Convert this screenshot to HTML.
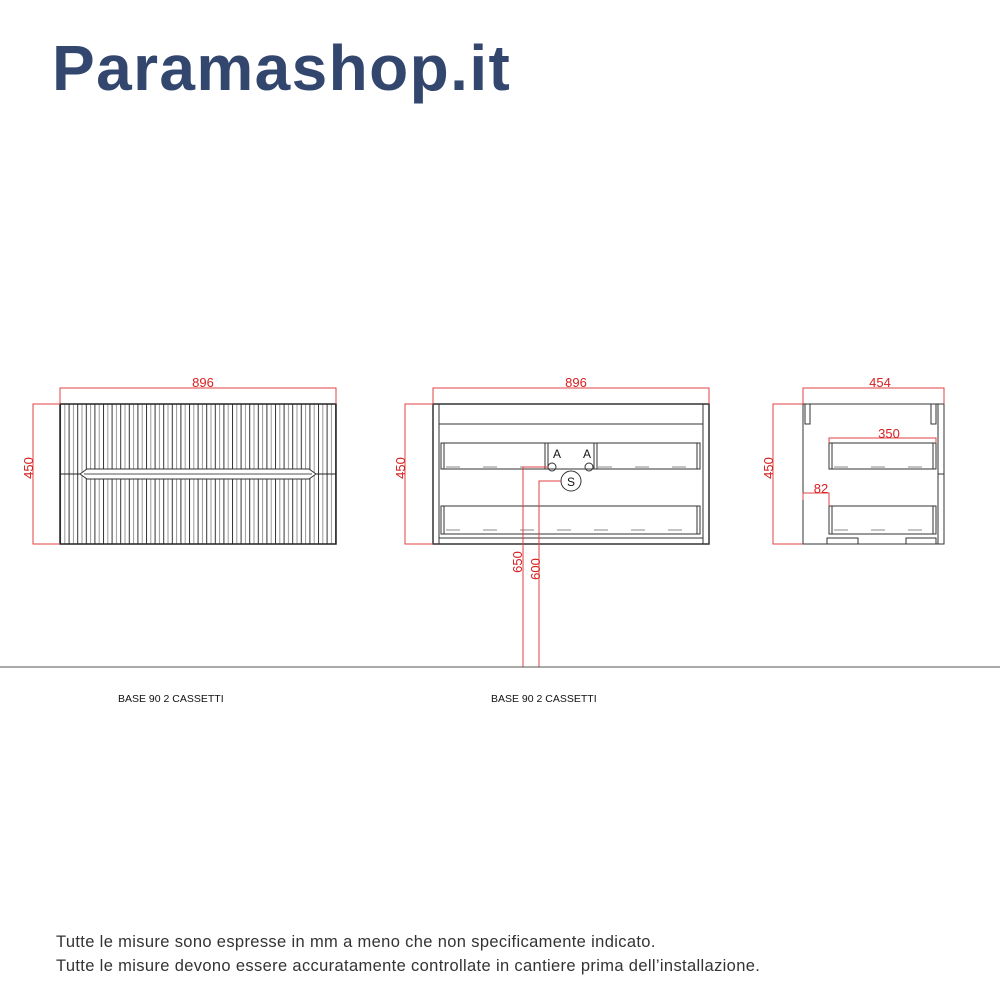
<!DOCTYPE html>
<html><head><meta charset="utf-8"><style>
body{margin:0;background:#fff;width:1000px;height:1000px;overflow:hidden;position:relative;font-family:"Liberation Sans",sans-serif}
.logo{position:absolute;left:52px;top:31px;font-size:64px;font-weight:bold;color:#33476e;letter-spacing:1.4px}
.note{position:absolute;left:56px;font-size:16.5px;color:#333;letter-spacing:0.35px}
</style></head><body>
<div class="logo">Paramashop.it</div>
<svg width="1000" height="1000" style="position:absolute;left:0;top:0" font-family="Liberation Sans, sans-serif">
<defs>
<pattern id="fl" x="60" y="0" width="8.6" height="10" patternUnits="userSpaceOnUse">
<line x1="0.5" y1="0" x2="0.5" y2="10" stroke="#333" stroke-width="1"/>
<line x1="4.8" y1="0" x2="4.8" y2="10" stroke="#999" stroke-width="1"/>
</pattern>
</defs>
<rect x="60" y="404" width="276" height="140" fill="url(#fl)"/>
<rect x="60" y="404" width="276" height="140" fill="none" stroke="#222" stroke-width="1.5"/>
<line x1="60" y1="474" x2="336" y2="474" stroke="#222"/>
<polygon points="80,474 87,469 309,469 316,474 309,479 87,479" fill="#fff" stroke="#333"/>
<line x1="84" y1="474" x2="312" y2="474" stroke="#555"/>
<g stroke="#e04040" fill="none" stroke-width="1">
<polyline points="60,404 60,388 336,388 336,404"/>
<polyline points="60,404 33,404 33,544 60,544"/>
</g>
<text x="203" y="387" fill="#d82020" font-size="13" text-anchor="middle">896</text>
<text x="0" y="0" fill="#d82020" font-size="13" text-anchor="middle" transform="translate(33,468) rotate(-90)">450</text>
<g stroke="#333" fill="none" stroke-width="1">
<rect x="433" y="404" width="276" height="140" stroke-width="1.5"/>
<line x1="439" y1="404" x2="439" y2="544"/><line x1="703" y1="404" x2="703" y2="544"/>
<line x1="439" y1="424" x2="703" y2="424"/>
<rect x="441" y="443" width="259" height="26"/>
<line x1="444" y1="443" x2="444" y2="469"/><line x1="697" y1="443" x2="697" y2="469"/>
<line x1="545" y1="443" x2="545" y2="469"/><line x1="548" y1="443" x2="548" y2="469"/>
<line x1="594" y1="443" x2="594" y2="469"/><line x1="597" y1="443" x2="597" y2="469"/>
<rect x="441" y="506" width="259" height="28"/>
<line x1="444" y1="506" x2="444" y2="534"/><line x1="697" y1="506" x2="697" y2="534"/>
<line x1="439" y1="538" x2="703" y2="538"/>
<circle cx="552" cy="467" r="4"/><circle cx="589" cy="467" r="4"/>
<circle cx="571" cy="481" r="10"/>
</g>
<g stroke="#888" stroke-dasharray="14,23"><line x1="446" y1="467" x2="545" y2="467"/><line x1="598" y1="467" x2="697" y2="467"/><line x1="446" y1="530" x2="697" y2="530"/></g>
<text x="557" y="458" font-size="12" text-anchor="middle" fill="#111">A</text>
<text x="587" y="458" font-size="12" text-anchor="middle" fill="#111">A</text>
<text x="571" y="486" font-size="12" text-anchor="middle" fill="#111">S</text>
<g stroke="#e04040" fill="none">
<polyline points="433,404 433,388 709,388 709,404"/>
<polyline points="433,404 405,404 405,544 433,544"/>
<polyline points="548,467 523,467 523,667"/>
<polyline points="561,481 539,481 539,667"/>
</g>
<text x="576" y="387" fill="#d82020" font-size="13" text-anchor="middle">896</text>
<text fill="#d82020" font-size="13" text-anchor="middle" transform="translate(405,468) rotate(-90)">450</text>
<text fill="#d82020" font-size="13" text-anchor="middle" transform="translate(522,562) rotate(-90)">650</text>
<text fill="#d82020" font-size="13" text-anchor="middle" transform="translate(540,569) rotate(-90)">600</text>
<g stroke="#333" fill="none">
<rect x="803" y="404" width="135" height="140"/>
<rect x="938" y="404" width="6" height="140"/>
<line x1="938" y1="474" x2="944" y2="474"/>
<rect x="805" y="404" width="5" height="20"/><rect x="931" y="404" width="5" height="20"/>
<rect x="829" y="443" width="107" height="26"/><line x1="832" y1="443" x2="832" y2="469"/><line x1="933" y1="443" x2="933" y2="469"/>
<rect x="829" y="506" width="107" height="28"/><line x1="832" y1="506" x2="832" y2="534"/><line x1="933" y1="506" x2="933" y2="534"/>
<rect x="827" y="538" width="31" height="6"/><rect x="906" y="538" width="30" height="6"/>
</g>
<g stroke="#888" stroke-dasharray="14,23"><line x1="834" y1="467" x2="932" y2="467"/><line x1="834" y1="530" x2="932" y2="530"/></g>
<g stroke="#e04040" fill="none">
<polyline points="803,404 803,388 944,388 944,404"/>
<polyline points="803,404 773,404 773,544 803,544"/>
<polyline points="829,443 829,438 936,438 936,443"/>
<polyline points="803,500 803,493 829,493 829,506"/>
</g>
<text x="880" y="387" fill="#d82020" font-size="13" text-anchor="middle">454</text>
<text x="889" y="438" fill="#d82020" font-size="13" text-anchor="middle">350</text>
<text x="821" y="493" fill="#d82020" font-size="13" text-anchor="middle">82</text>
<text fill="#d82020" font-size="13" text-anchor="middle" transform="translate(773,468) rotate(-90)">450</text>
<line x1="0" y1="667" x2="1000" y2="667" stroke="#555"/>
<text x="118" y="702" font-size="10.5" fill="#111">BASE 90 2 CASSETTI</text>
<text x="491" y="702" font-size="10.5" fill="#111">BASE 90 2 CASSETTI</text>
</svg>
<div class="note" style="top:933px">Tutte le misure sono espresse in mm a meno che non specificamente indicato.</div>
<div class="note" style="top:957px">Tutte le misure devono essere accuratamente controllate in cantiere prima dell’installazione.</div>
</body></html>
